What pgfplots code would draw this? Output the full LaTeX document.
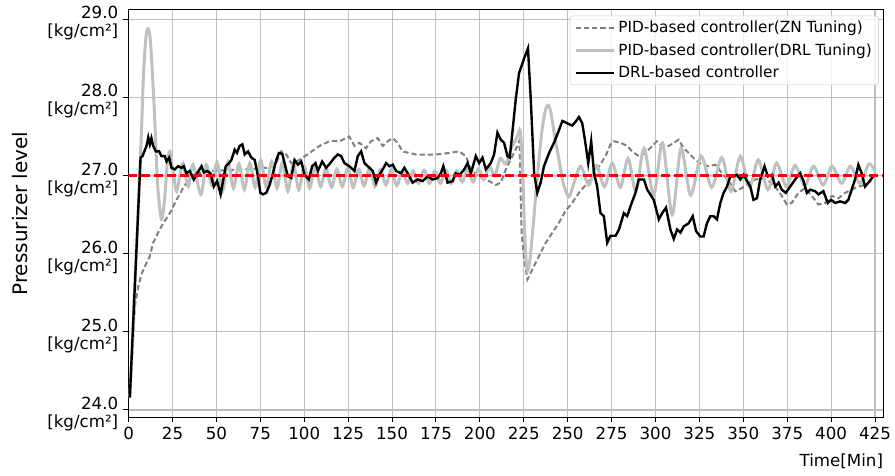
\documentclass[border=0pt]{standalone}
\usepackage{fontspec}
\setmainfont{DejaVu Sans}
\usepackage{pgfplots}
\pgfplotsset{compat=1.18}
\definecolor{zngray}{RGB}{128,128,128}
\definecolor{drlgray}{RGB}{192,192,192}
\definecolor{gridgray}{RGB}{190,190,190}
\definecolor{leggray}{RGB}{210,210,210}
\begin{document}
\begin{tikzpicture}
\begin{axis}[
  name=ax,
  scale only axis,
  width=566.25pt, height=305.25pt,
  xmin=-0.2, xmax=429.7, ymin=23.91, ymax=29.12,
  xtick={0,25,...,425},
  ytick={24,25,26,27,28,29},
  yticklabels={{24.0\\{[}kg/cm²]},{25.0\\{[}kg/cm²]},{26.0\\{[}kg/cm²]},{27.0\\{[}kg/cm²]},{28.0\\{[}kg/cm²]},{29.0\\{[}kg/cm²]}},
  yticklabel style={align=right, yshift=-3pt, font=\fontsize{12.5}{13.5}\selectfont},
  xticklabel style={font=\fontsize{12.5}{14}\selectfont},
  /pgf/number format/assume math mode=true,
  tick align=outside, xtick pos=lower, ytick pos=left,
  major tick length=4pt,
  tick style={black, line width=0.75pt},
  grid=major, grid style={gridgray, line width=0.8pt},
  axis line style={black, line width=0.75pt},
  xlabel={Time[Min]},
  xlabel style={at={(axis description cs:1,0)}, anchor=north east, yshift=-24pt, inner xsep=0pt, font=\fontsize{12.5}{14}\selectfont},
  ylabel={Pressurizer level},
  ylabel style={at={(axis description cs:-0.143,0.5)}, anchor=center, font=\fontsize{15}{18}\selectfont},
  legend style={at={(axis description cs:0.994,0.986)}, anchor=north east, draw=leggray, rounded corners=2pt, fill=white, fill opacity=0.8, text opacity=1, draw opacity=1, font=\fontsize{11.5}{13}\selectfont, row sep=2.5pt, inner xsep=3pt, inner ysep=2pt, cells={anchor=west}},
  legend image code/.code={\draw[#1] (0pt,0pt) -- (24pt,0pt); \path (0pt,0pt) -- (29pt,0pt);},
]
% PID (ZN tuning)
\addplot[zngray, line width=1.5pt, dash pattern=on 4pt off 2.2pt] coordinates {
(0.7,24.16)(3.6,25.33)(5.5,25.58)(7.5,25.75)(9.3,25.84)(12.1,25.97)(14.0,26.14)(16.8,26.27)(19.7,26.39)(23.5,26.52)(27.3,26.69)(31.0,26.84)(34.8,26.97)(39.6,27.03)(46.2,27.06)(55.7,27.07)(67.0,27.08)(78.4,27.10)(84.1,27.16)(86.9,27.31)(89.8,27.27)(92.6,27.16)(97.3,27.20)(103.0,27.29)(108.7,27.38)(114.4,27.44)(120.1,27.44)(125.7,27.50)(128.6,27.38)(131.4,27.42)(135.2,27.35)(138.0,27.44)(141.8,27.48)(144.7,27.38)(147.5,27.44)(150.4,27.48)(153.2,27.42)(156.0,27.31)(159.8,27.29)(163.6,27.27)(169.3,27.27)(175.0,27.27)(182.6,27.29)(188.2,27.31)(192.0,27.25)(194.9,27.08)(199.6,26.99)(205.3,26.93)(209.1,26.88)(211.9,26.91)(214.8,27.08)(218.5,27.25)(221.4,27.38)(222.6,27.45)(223.3,26.69)(223.8,26.27)(225.2,25.93)(227.1,25.67)(229.9,25.80)(233.7,25.97)(237.5,26.14)(241.3,26.27)(245.1,26.40)(248.8,26.55)(252.6,26.65)(256.4,26.78)(260.2,26.88)(264.0,26.97)(267.8,27.12)(271.6,27.25)(274.4,27.40)(276.3,27.44)(280.1,27.42)(283.9,27.38)(286.7,27.31)(290.5,27.25)(294.3,27.29)(298.1,27.38)(300.9,27.44)(303.8,27.38)(307.6,27.38)(310.4,27.42)(313.2,27.46)(316.1,27.35)(318.9,27.29)(322.7,27.20)(326.5,27.14)(330.3,27.12)(334.1,27.14)(337.9,27.03)(341.7,26.93)(345.4,26.80)(349.2,26.84)(353.0,26.91)(356.8,26.95)(360.6,26.97)(364.4,26.93)(368.2,26.86)(371.9,26.74)(374.8,26.63)(377.6,26.65)(381.4,26.78)(385.2,26.84)(389.0,26.74)(392.8,26.63)(396.6,26.65)(400.4,26.74)(404.2,26.71)(408.0,26.78)(411.7,26.82)(415.5,26.86)(419.3,26.88)(424.0,26.95)
};
\addlegendentry{PID-based controller(ZN Tuning)}
% PID (DRL tuning)
\addplot[drlgray, line width=2.25pt, smooth] coordinates {
(0.7,24.16)(6.5,27.1)(8.5,28.3)(10.0,28.8)(11.2,28.88)(12.5,28.7)(14.5,27.9)(16.5,26.9)(18.7,26.44)(20.5,26.7)(22.0,27.15)(23.5,27.31)(25.3,27.05)(27.3,26.80)(29.2,27.0)(31.0,27.16)(33.9,26.86)(36.7,27.14)(41.1,26.76)(44.2,27.14)(47.3,26.88)(50.4,27.17)(53.5,26.80)(56.6,27.18)(59.7,26.84)(62.8,27.15)(65.9,26.82)(69.0,27.16)(72.1,26.85)(75.2,27.20)(78.3,26.86)(81.4,27.18)(84.5,26.84)(87.6,27.17)(90.7,26.80)(93.8,27.15)(96.9,26.82)(100.0,27.12)(103.1,26.84)(106.2,27.12)(109.3,26.86)(112.4,27.10)(115.5,26.85)(118.6,27.08)(121.7,26.86)(124.8,27.10)(127.9,26.85)(131.0,27.08)(134.1,26.87)(137.2,27.10)(140.3,26.86)(143.4,27.08)(146.5,26.88)(149.6,27.08)(152.7,26.87)(155.8,27.06)(158.9,26.90)(162.0,27.06)(165.1,26.90)(168.2,27.07)(171.3,26.90)(174.4,27.06)(177.5,26.90)(180.6,27.07)(183.7,26.90)(186.8,27.06)(189.9,26.92)(193.0,27.08)(196.1,26.92)(199.2,27.08)(202.3,26.95)(205.4,27.12)(208.5,27.00)(211.6,27.22)(214.7,27.15)(218.0,27.35)(221.3,27.50)(223.0,27.57)(224.3,27.1)(225.3,26.4)(226.2,25.95)(227.1,25.78)(228.5,25.92)(230.5,26.4)(233.0,27.05)(235.5,27.6)(237.5,27.85)(239.0,27.90)(240.5,27.80)(243.0,27.45)(245.1,27.20)(247.5,26.90)(250.7,26.73)(253.5,26.90)(257.4,27.12)(262.0,26.88)(266.4,27.13)(271.0,26.86)(275.4,27.16)(280.0,26.85)(284.4,27.22)(288.8,26.80)(293.5,27.35)(299.0,26.75)(304.0,27.42)(309.5,26.50)(314.5,27.35)(320.0,26.75)(326.0,27.25)(332.0,26.85)(337.8,27.23)(343.0,26.80)(348.3,27.25)(353.5,26.85)(358.5,27.20)(364.0,26.82)(369.0,27.16)(374.5,26.86)(379.5,27.13)(385.0,26.87)(390.0,27.12)(395.5,26.88)(400.5,27.12)(406.0,26.90)(411.0,27.12)(416.5,26.90)(421.5,27.15)(425.0,27.05)
};
\addlegendentry{PID-based controller(DRL Tuning)}
% DRL-based controller
\addplot[black, line width=1.8pt] coordinates {
(0.7,24.16)(6.8,27.23)(7.9,27.25)(10.2,27.38)(11.2,27.49)(12.1,27.40)(13.0,27.48)(14.0,27.38)(15.5,27.31)(17.4,27.31)(18.7,27.25)(20.6,27.25)(21.6,27.18)(23.1,27.23)(24.4,27.10)(26.3,27.08)(28.2,27.12)(30.1,27.10)(31.4,27.12)(32.9,27.03)(34.8,27.06)(37.1,26.95)(39.0,27.03)(41.5,27.12)(42.8,27.04)(44.7,27.06)(46.6,27.03)(48.5,26.86)(50.4,26.93)(52.4,26.76)(55.3,27.12)(57.2,27.16)(58.5,27.20)(60.4,27.33)(61.7,27.29)(63.2,27.38)(64.8,27.40)(66.1,27.27)(68.0,27.31)(69.9,27.23)(71.8,27.20)(73.7,26.99)(75.0,26.78)(76.5,26.76)(78.4,26.78)(80.3,26.88)(82.2,27.03)(84.1,27.20)(85.6,27.29)(87.5,27.28)(88.8,27.16)(90.7,26.99)(92.6,26.97)(94.5,27.20)(96.4,27.14)(98.3,27.18)(100.2,27.01)(102.6,26.95)(104.5,27.12)(106.4,27.16)(107.8,27.06)(110.2,27.18)(112.5,27.10)(114.8,27.16)(117.2,27.23)(119.1,27.27)(121.0,27.25)(122.9,27.16)(125.7,27.12)(128.6,27.06)(130.5,27.25)(132.4,27.31)(134.3,27.16)(137.1,27.10)(139.0,27.06)(140.9,26.91)(142.8,27.01)(144.7,27.08)(146.6,27.16)(148.5,27.12)(150.4,27.14)(152.3,27.06)(155.1,27.03)(157.0,27.10)(158.9,27.03)(161.7,26.91)(164.6,26.95)(167.4,26.93)(170.3,26.99)(173.1,26.95)(175.9,26.97)(177.8,27.03)(179.2,27.12)(181.6,26.91)(184.5,26.93)(186.3,27.03)(188.6,27.01)(191.1,27.08)(193.0,27.16)(194.9,27.03)(197.7,27.25)(199.6,27.16)(201.5,27.23)(203.4,27.08)(206.2,27.16)(208.1,27.27)(210.0,27.55)(211.9,27.46)(213.8,27.42)(215.7,27.25)(217.0,27.23)(218.5,27.55)(220.4,27.97)(222.3,28.31)(225.2,28.50)(227.4,28.63)(229.0,27.97)(230.9,27.03)(232.7,26.78)(234.6,26.91)(236.5,27.12)(239.4,27.29)(242.2,27.42)(244.5,27.55)(247.0,27.70)(249.8,27.67)(252.6,27.64)(254.5,27.69)(256.4,27.75)(258.3,27.67)(259.8,27.46)(261.7,27.16)(263.4,27.44)(265.0,27.03)(266.8,26.86)(268.7,26.52)(270.6,26.48)(272.5,26.14)(274.4,26.23)(277.3,26.23)(279.2,26.31)(282.0,26.52)(283.9,26.48)(285.8,26.61)(288.6,26.78)(290.5,26.95)(293.4,26.95)(295.3,26.82)(299.0,26.69)(301.9,26.44)(303.8,26.52)(306.0,26.59)(308.5,26.31)(310.4,26.19)(312.3,26.31)(314.2,26.27)(316.1,26.35)(318.9,26.39)(321.2,26.48)(323.1,26.29)(325.5,26.22)(327.4,26.22)(329.3,26.39)(331.2,26.48)(333.1,26.48)(335.0,26.44)(336.9,26.65)(338.8,26.78)(340.7,26.86)(342.6,26.99)(344.5,26.99)(346.4,27.01)(348.3,26.95)(350.2,27.01)(352.1,26.93)(354.0,26.86)(355.8,26.69)(357.8,26.71)(359.6,26.95)(362.1,27.12)(364.0,26.99)(366.3,27.01)(368.2,26.86)(370.1,26.91)(371.9,26.82)(374.2,26.78)(376.7,26.86)(379.5,26.95)(382.4,27.03)(384.3,26.93)(386.2,26.78)(388.1,26.82)(390.9,26.80)(392.8,26.76)(395.6,26.80)(398.1,26.65)(400.0,26.69)(402.3,26.65)(405.1,26.67)(408.0,26.65)(409.8,26.69)(411.7,26.82)(413.6,26.95)(415.5,27.14)(417.4,27.03)(419.3,26.86)(421.2,26.91)(424.0,26.99)
};
\addlegendentry{DRL-based controller}
% setpoint
\addplot[red, line width=1.75pt, dash pattern=on 6.75pt off 3pt, forget plot] coordinates {(-0.2,27) (429.7,27)};
\end{axis}
\pgfresetboundingbox
\path ([shift={(-96.2pt,-43.5pt)}]ax.south west) rectangle ([shift={(8.8pt,7.5pt)}]ax.north east);
\end{tikzpicture}
\end{document}
